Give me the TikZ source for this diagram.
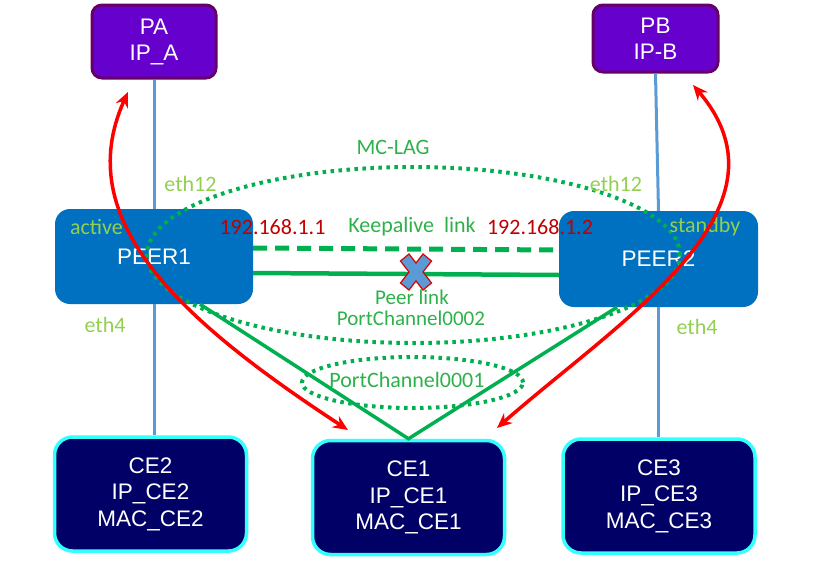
\documentclass[tikz,border=0pt]{standalone}
\usepackage{fontspec}
\setmainfont{Liberation Sans}
\newfontfamily\labfont{Carlito}
\usetikzlibrary{shapes.geometric,arrows.meta}
\definecolor{pafill}{HTML}{6600CC}
\definecolor{paedge}{HTML}{660066}
\definecolor{peerfill}{HTML}{0070C0}
\definecolor{cefill}{HTML}{000066}
\definecolor{ceedge}{HTML}{33FFFF}
\definecolor{linkblue}{HTML}{5B9BD5}
\definecolor{lgreen}{HTML}{00B050}
\definecolor{ethgreen}{HTML}{92D050}
\definecolor{ipred}{HTML}{C00000}
\definecolor{txtgreen}{HTML}{2EB04A}
\begin{document}
\begin{tikzpicture}[x=1pt,y=-1pt,
  pbox/.style={draw=paedge, line width=3pt, fill=pafill, rounded corners=10pt,
    text=white, align=center, font=\fontsize{22.5}{26}\selectfont, inner sep=0pt},
  peerbox/.style={fill=peerfill, rounded corners=15pt, text=white, align=center,
    font=\fontsize{22.5}{26}\selectfont, inner sep=0pt, minimum width=198pt, minimum height=95pt},
  cebox/.style={draw=ceedge, line width=3.5pt, fill=cefill, rounded corners=18pt,
    text=white, align=center, font=\fontsize{22.5}{26.5}\selectfont, inner sep=0pt,
    minimum width=192pt, minimum height=114pt},
  lab/.style={font=\labfont\fontsize{22}{24}\selectfont, inner sep=0pt},
  ethlab/.style={lab, text=ethgreen},
  grlab/.style={lab, text=txtgreen},
  iplab/.style={lab, text=ipred},
  uplink/.style={draw=linkblue, line width=3pt},
  keep/.style={draw=lgreen, line width=5pt, dash pattern=on 14pt off 8pt},
  peerln/.style={draw=lgreen, line width=4.5pt},
  lagln/.style={draw=lgreen, line width=3.5pt},
  dotring/.style={ellipse, draw=lgreen, line width=4pt, dash pattern=on 3.5pt off 4.5pt, inner sep=0pt},
  redarrow/.style={draw=red, line width=3.5pt, {Stealth[length=15pt,width=13pt]}-{Stealth[length=15pt,width=13pt]}}
]
\useasboundingbox (0,0) rectangle (815,563);

% boxes
\node[pbox, minimum width=124pt, minimum height=73pt] (pa) at (154,41.5) {PA\\IP\_A};
\node[pbox, minimum width=125pt, minimum height=67pt] (pb) at (655.5,38.5) {PB\\IP-B};
\node[peerbox] (peer1) at (154,256.5) {PEER1};
\node[peerbox, minimum width=199pt, minimum height=96pt] (peer2) at (658.5,259) {PEER2};
\node[cebox] (ce2) at (150.5,494) {CE2\\IP\_CE2\\MAC\_CE2};
\node[cebox] (ce1) at (408.5,497.5) {CE1\\IP\_CE1\\MAC\_CE1};
\node[cebox] (ce3) at (659,496) {CE3\\IP\_CE3\\MAC\_CE3};

% blue uplinks
\draw[uplink] (pa.south) -- (peer1.north);
\draw[uplink] (peer1.south) -- (peer1.south |- ce2.north);
\draw[uplink] (pb.south) -- (peer2.north);
\draw[uplink] (peer2.south) -- (peer2.south |- ce3.north);

% keepalive and peer link
\draw[keep] ([yshift=8.5pt]peer1.east) -- ([yshift=9pt]peer2.west);
\draw[peerln] ([yshift=-16.5pt]peer1.east) -- ([yshift=-16pt]peer2.west);

% lag links
\draw[lagln] ([xshift=46pt]peer1.south) -- (ce1.north) -- ([xshift=-41.5pt]peer2.south);

% dotted rings
\node[dotring, minimum width=533pt, minimum height=176pt] (mclag) at (413.5,255) {};
\node[dotring, minimum width=221pt, minimum height=51pt] (pc1ring) at (412.5,382.5) {};

% X mark on peer link
\begin{scope}[shift={(416,272)}]
\draw[fill=linkblue, draw=red!85!black, line width=1.2pt]
  (7,0) -- (15.5,-11) -- (7,-18) -- (0,-9) -- (-7,-18) -- (-15.5,-11) -- (-7,0)
  -- (-15.5,11) -- (-7,18) -- (0,9) -- (7,18) -- (15.5,11) -- cycle;
\end{scope}

% labels
\node[grlab] (lmclag) at (393,147) {MC-LAG};
\node[ethlab] (leth12a) at (190.5,184) {eth12};
\node[ethlab] (leth12b) at (616,184) {eth12};
\node[ethlab] (lactive) at (96.5,227) {active};
\node[ethlab] (lstandby) at (705,227) {standby};
\node[ethlab] (leth4a) at (105,325) {eth4};
\node[ethlab] (leth4b) at (697,327) {eth4};
\node[iplab] (lip1) at (272.5,227) {192.168.1.1};
\node[grlab] (lkeep) at (412,227) {Keepalive\ \ link};
\node[iplab] (lip2) at (540,227) {192.168.1.2};
\node[grlab, font=\labfont\fontsize{21}{24}\selectfont] (lpeer) at (412,297) {Peer link};
\node[grlab, font=\labfont\fontsize{21}{24}\selectfont] (lpc2) at (411,318) {PortChannel0002};
\node[grlab] (lpc1) at (407,380) {PortChannel0001};

% red traffic arrows
\coordinate (ra1) at (128,92);
\coordinate (ra2) at (348,430);
\coordinate (rb1) at (693,85);
\coordinate (rb2) at (497,428);
\draw[redarrow] (ra1) .. controls (70,220) and (180,320) .. (ra2);
\draw[redarrow] (rb1) .. controls (800,210) and (620,320) .. (rb2);
\end{tikzpicture}
\end{document}
